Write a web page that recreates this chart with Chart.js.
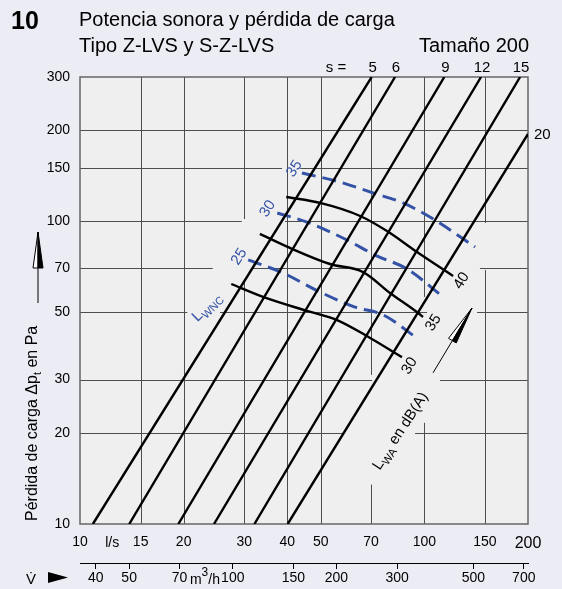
<!DOCTYPE html>
<html>
<head>
<meta charset="utf-8">
<script src="https://cdn.jsdelivr.net/npm/chart.js@4.4.1/dist/chart.umd.min.js"></script>
<style>
  html, body { margin: 0; padding: 0; background: #ececf4; }
  canvas { display: block; }
</style>
</head>
<body>
<canvas id="chart" width="562" height="589"></canvas>
<script>
// axes: flow in l/s (and m3/h), total pressure loss in Pa
const xTicks = [10, 15, 20, 30, 40, 50, 70, 100, 150, 200];
const yTicks = [10, 20, 30, 50, 70, 100, 150, 200, 300];
const m3hTicks = [40, 50, 70, 100, 150, 200, 300, 500, 700];

// damper lines s = 5 ... 20  (start / end points, l/s and Pa)
const sLabels = ["5", "6", "9", "12", "15", "20"];
const sFlow = [[10.9, 70.3], [13.9, 82.2], [19.3, 114.3], [24.5, 146.1], [32.1, 189.7], [40.1, 200]];
const sPress = [[10, 300], [10, 300], [10, 300], [10, 300], [10, 300], [10, 194.5]];

// sound power L_WA in dB(A)
const lwaLabels = ["40", "35", "30"];
const lwaFlow = [
  [39.7, 49.8, 65.1, 77.9, 95.2, 121.2],
  [33.3, 40.7, 53.2, 66.4, 79.5, 95.9, 99.1],
  [27.5, 34.0, 45.6, 55.8, 69.6, 86.1]
];
const lwaPress = [
  [120.4, 115.1, 104.2, 92.9, 79.2, 66.0],
  [90.9, 81.7, 72.3, 68.0, 58.0, 49.8, 48.3],
  [62.1, 56.3, 50.6, 47.2, 41.2, 35.6]
];

// L_WNC (dashed)
const lwncLabels = ["35", "30", "25"];
const lwncFlow = [
  [44.1, 56.9, 71.0, 86.7, 99.1, 109.6, 140.4],
  [37.4, 45.6, 59.6, 71.9, 89.1, 113.3],
  [30.8, 38.9, 49.8, 62.9, 75.9, 95.9]
];
const lwncPress = [
  [144.5, 134.9, 124.1, 115.1, 106.6, 99.5, 82.3],
  [106.6, 99.5, 86.8, 77.4, 69.6, 56.3],
  [74.6, 67.5, 58.4, 52.1, 49.1, 40.9]
];

const FONT = "'Liberation Sans', Arial, Helvetica, sans-serif";
const BLUE = "#3352a6";

function pts(xs, ys) {
  return xs.map((x, i) => ({ x: x, y: ys[i] }));
}

const datasets = [];
sFlow.forEach((f, i) => {
  datasets.push({ data: pts(f, sPress[i]), borderColor: "#000", borderWidth: 2.4, tension: 0 });
});
lwaFlow.forEach((f, i) => {
  datasets.push({ data: pts(f, lwaPress[i]), borderColor: "#000", borderWidth: 2.4, cubicInterpolationMode: "monotone" });
});
lwncFlow.forEach((f, i) => {
  datasets.push({ data: pts(f, lwncPress[i]), borderColor: BLUE, borderWidth: 3, borderDash: [14, 7], cubicInterpolationMode: "monotone" });
});

// grid gaps where the original leaves room for labels (data units)
const hGaps = { 150: [[38.6, 43.6]], 100: [[29.5, 39.4]], 70: [[24.3, 31.6], [100.5, 145]],
  50: [[20.5, 25.5], [101.8, 142.3]], 30: [[70.5, 111.1]], 20: [[58.1, 94.0]], 200: [] };
const vGaps = { 30: [[62.6, 101.8]], 70: [[13.5, 31.1]], 100: [[21.6, 56.3]], 150: [[69.1, 98.8]] };

function richText(ctx, parts, x, y, angle, align) {
  ctx.save();
  ctx.translate(x, y);
  ctx.rotate(angle * Math.PI / 180);
  let w = 0;
  parts.forEach(p => { ctx.font = p.font; w += ctx.measureText(p.t).width; });
  let cx = align === "left" ? 0 : -w / 2;
  ctx.textBaseline = "alphabetic";
  ctx.textAlign = "left";
  parts.forEach(p => {
    ctx.font = p.font;
    ctx.fillStyle = p.color || "#000";
    ctx.fillText(p.t, cx, p.dy || 0);
    cx += ctx.measureText(p.t).width;
  });
  ctx.restore();
}

function arrow(ctx, x0, y0, x1, y1, len, wid) {
  const d = Math.hypot(x1 - x0, y1 - y0);
  const ux = (x1 - x0) / d, uy = (y1 - y0) / d;
  const nx = uy, ny = -ux;
  const bx = x1 - ux * len, by = y1 - uy * len;
  ctx.save();
  ctx.strokeStyle = "#000";
  ctx.lineWidth = 1;
  ctx.beginPath();
  ctx.moveTo(x0, y0);
  ctx.lineTo(bx, by);
  ctx.stroke();
  ctx.beginPath();
  ctx.moveTo(x1, y1);
  ctx.lineTo(bx + nx * wid / 2, by + ny * wid / 2);
  ctx.lineTo(bx, by);
  ctx.closePath();
  ctx.fillStyle = "#fff";
  ctx.fill();
  ctx.stroke();
  ctx.beginPath();
  ctx.moveTo(x1, y1);
  ctx.lineTo(bx, by);
  ctx.lineTo(bx - nx * wid / 2, by - ny * wid / 2);
  ctx.closePath();
  ctx.fillStyle = "#000";
  ctx.fill();
  ctx.stroke();
  ctx.restore();
}

const decor = {
  id: "decor",
  beforeDraw(chart) {
    const ctx = chart.ctx, a = chart.chartArea;
    ctx.save();
    ctx.fillStyle = "#ececf4";
    ctx.fillRect(0, 0, chart.width, chart.height);
    ctx.fillStyle = "#efefef";
    ctx.fillRect(a.left, a.top, a.right - a.left, a.bottom - a.top);
    ctx.restore();
  },
  beforeDatasetsDraw(chart) {
    const ctx = chart.ctx, a = chart.chartArea;
    const sx = chart.scales.x, sy = chart.scales.y;
    ctx.save();
    ctx.strokeStyle = "#4d4d4d";
    ctx.lineWidth = 1;
    ctx.beginPath();
    yTicks.slice(1, -1).forEach(v => {
      const y = Math.round(sy.getPixelForValue(v)) + 0.5;
      let cur = a.left;
      (hGaps[v] || []).forEach(g => {
        ctx.moveTo(cur, y); ctx.lineTo(sx.getPixelForValue(g[0]), y);
        cur = sx.getPixelForValue(g[1]);
      });
      ctx.moveTo(cur, y); ctx.lineTo(a.right, y);
    });
    xTicks.slice(1, -1).forEach(v => {
      const x = Math.round(sx.getPixelForValue(v)) + 0.5;
      let cur = a.bottom;
      (vGaps[v] || []).forEach(g => {
        ctx.moveTo(x, cur); ctx.lineTo(x, sy.getPixelForValue(g[0]));
        cur = sy.getPixelForValue(g[1]);
      });
      ctx.moveTo(x, cur); ctx.lineTo(x, a.top);
    });
    ctx.stroke();
    ctx.strokeStyle = "#666";
    ctx.lineWidth = 1.5;
    ctx.strokeRect(a.left, a.top, a.right - a.left, a.bottom - a.top);
    ctx.restore();
  },
  afterDraw(chart) {
    const ctx = chart.ctx, a = chart.chartArea;
    const sx = chart.scales.x, sy = chart.scales.y, s2 = chart.scales.x2;
    const px = v => sx.getPixelForValue(v), py = v => sy.getPixelForValue(v);
    ctx.save();
    ctx.fillStyle = "#000";
    ctx.textBaseline = "alphabetic";

    // title
    ctx.font = "bold 25px " + FONT;
    ctx.textAlign = "left";
    ctx.fillText("10", 11, 29);
    ctx.font = "20px " + FONT;
    ctx.fillText("Potencia sonora y pérdida de carga", 79, 26);
    ctx.fillText("Tipo Z-LVS y S-Z-LVS", 79, 52);
    ctx.textAlign = "right";
    ctx.fillText("Tamaño 200", 529, 52);

    // s labels
    ctx.font = "15px " + FONT;
    ctx.textAlign = "center";
    ctx.fillText("s =", 336, 72);
    sLabels.forEach((lab, i) => {
      const xe = px(sFlow[i][1]), ye = py(sPress[i][1]);
      if (ye <= a.top + 1) {
        ctx.textAlign = "center";
        ctx.fillText(lab, xe + 1, a.top - 5);
      } else {
        ctx.textAlign = "left";
        ctx.fillText(lab, a.right + 6, ye + 5);
      }
    });

    // curve labels
    const blueLab = [[42.1, 150.2], [35.2, 110.7], [29.1, 76.9]];
    lwncLabels.forEach((lab, i) => {
      richText(ctx, [{ t: lab, font: "15px " + FONT, color: BLUE }], px(blueLab[i][0]) + 3, py(blueLab[i][1]) + 3, -58, "center");
    });
    richText(ctx, [{ t: "L", font: "15px " + FONT, color: BLUE }, { t: "WNC", font: "11px " + FONT, color: BLUE, dy: 4 }],
      px(23.5) + 2, py(52.1) + 3, -45, "center");
    const blackLab = [[128.7, 64.0], [106.7, 46.5], [90.9, 33.5]];
    lwaLabels.forEach((lab, i) => {
      richText(ctx, [{ t: lab, font: "15px " + FONT }], px(blackLab[i][0]) + 3, py(blackLab[i][1]) + 3, -58, "center");
    });
    richText(ctx, [{ t: "L", font: "15px " + FONT }, { t: "WA", font: "11px " + FONT, dy: 4 }, { t: " en dB(A)", font: "15px " + FONT }],
      px(85.0) + 4, py(20.4) + 3, -57, "center");
    arrow(ctx, px(106.0), py(31.6), px(137.5), py(51.7), 38, 9);

    // y axis title
    richText(ctx, [{ t: "Pérdida de carga Δp", font: "16px " + FONT }, { t: "t", font: "11px " + FONT, dy: 4 },
      { t: " en Pa", font: "16px " + FONT }], 37, 521, -90, "left");
    arrow(ctx, 38, 303, 38, 232, 36, 10);

    // x axis extra labels
    ctx.font = "14px " + FONT;
    ctx.textAlign = "center";
    ctx.fillText("l/s", px(12.4), 547);
    richText(ctx, [{ t: "V\u0307", font: "15px " + FONT }], 31, 584, 0, "center");
    ctx.beginPath();
    ctx.moveTo(48, 572); ctx.lineTo(68, 577.5); ctx.lineTo(48, 583); ctx.closePath();
    ctx.fill();
    richText(ctx, [{ t: "m", font: "14px " + FONT }, { t: "3", font: "12px " + FONT, dy: -8 }, { t: "/h", font: "14px " + FONT }],
      s2.getPixelForValue(83), 584, 0, "center");
    ctx.restore();
  }
};

new Chart(document.getElementById("chart"), {
  type: "scatter",
  data: { datasets: datasets },
  options: {
    responsive: false,
    animation: false,
    showLine: true,
    elements: { point: { radius: 0 }, line: { borderCapStyle: "butt" } },
    layout: { padding: { left: 0, right: 34, top: 77, bottom: 0 } },
    plugins: { legend: { display: false }, tooltip: { enabled: false } },
    scales: {
      x: {
        type: "logarithmic", position: "bottom", min: 10, max: 200, weight: 0,
        afterBuildTicks: s => { s.ticks = xTicks.map(v => ({ value: v })); },
        afterFit: s => { s.height = 39; },
        grid: { display: false, drawTicks: false },
        border: { display: false },
        ticks: {
          color: "#000", padding: 10, maxRotation: 0, autoSkip: false,
          font: c => ({ family: FONT, size: c.tick && c.tick.value === 200 ? 16 : 14 }),
          callback: v => String(v)
        }
      },
      x2: {
        type: "logarithmic", position: "bottom", min: 36, max: 720, weight: 1,
        afterBuildTicks: s => { s.ticks = m3hTicks.map(v => ({ value: v })); },
        afterFit: s => { s.height = 26; },
        grid: { display: true, drawOnChartArea: false, drawTicks: true, tickLength: 6, color: "#000", lineWidth: 1 },
        border: { display: true, color: "#000", width: 1 },
        ticks: { color: "#000", padding: 1, maxRotation: 0, autoSkip: false, font: { family: FONT, size: 14 }, callback: v => String(v) }
      },
      y: {
        type: "logarithmic", position: "left", min: 10, max: 300,
        afterBuildTicks: s => { s.ticks = yTicks.map(v => ({ value: v })); },
        afterFit: s => { s.width = 80; },
        grid: { display: false, drawTicks: false },
        border: { display: false },
        ticks: { color: "#000", padding: 10, autoSkip: false, font: { family: FONT, size: 14 }, callback: v => String(v) }
      }
    }
  },
  plugins: [decor]
});
</script>
</body>
</html>
